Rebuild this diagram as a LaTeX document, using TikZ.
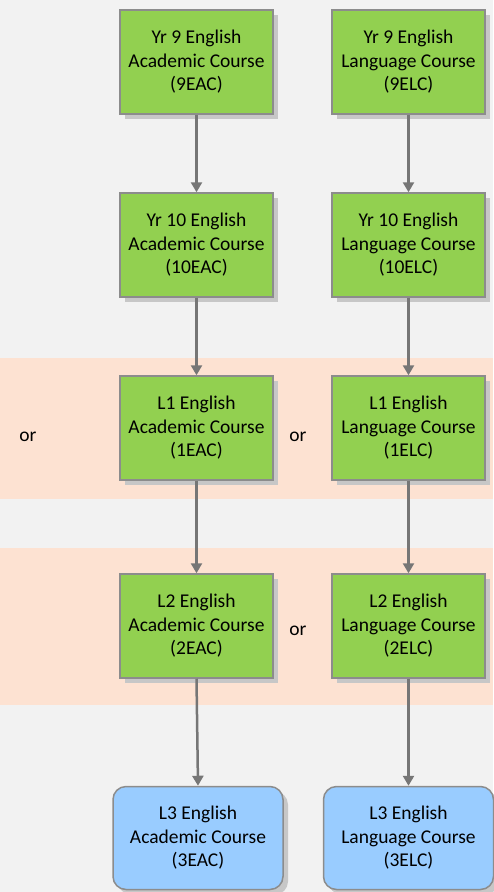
\documentclass[tikz,border=0pt]{standalone}
\usepackage{fontspec}
\setmainfont{Carlito}
\usepackage{tikz}
\usetikzlibrary{arrows.meta,shadows}

\definecolor{pagegray}{RGB}{242,242,242}
\definecolor{bandpeach}{RGB}{253,226,210}
\definecolor{boxgreen}{RGB}{146,208,80}
\definecolor{boxblue}{RGB}{153,204,255}
\definecolor{edgegray}{RGB}{140,140,140}
\definecolor{arrowgray}{RGB}{118,118,118}

\tikzset{
  course/.style={draw=edgegray, line width=1.5pt, fill=boxgreen, minimum width=153pt, minimum height=104pt,
    align=center, inner sep=0pt, font=\fontsize{19.5}{23.5}\selectfont,
    drop shadow={shadow xshift=5pt, shadow yshift=-5pt, fill=black!22, opacity=1}},
  final/.style={course, fill=boxblue, rounded corners=13pt, minimum width=170pt, minimum height=103pt},
  ortext/.style={inner sep=0pt, font=\fontsize{19.5}{23.5}\selectfont},
  flow/.style={draw=arrowgray, line width=2.5pt, -{Triangle[width=11pt,length=10pt]}}
}

\begin{document}
\begin{tikzpicture}[x=1pt,y=1pt,yscale=-1,xscale=1]
    % background and bands
    \fill [pagegray] (0,0) rectangle (493,892);
    \useasboundingbox (0,0) rectangle (493,892);
    \fill [bandpeach] (0,358) rectangle (493,499);
    \fill [bandpeach] (0,548) rectangle (493,705);

    % Year 9
    \node [course] (eac9) at (196.5,62) {Yr 9 English\\Academic Course\\(9EAC)};
    \node [course] (elc9) at (408.5,62) {Yr 9 English\\Language Course\\(9ELC)};
    % Year 10
    \node [course] (eac10) at (196.5,245) {Yr 10 English\\Academic Course\\(10EAC)};
    \node [course] (elc10) at (408.5,245) {Yr 10 English\\Language Course\\(10ELC)};
    % Level 1
    \node [course] (eac1) at (196.5,428) {L1 English\\Academic Course\\(1EAC)};
    \node [course] (elc1) at (408.5,428) {L1 English\\Language Course\\(1ELC)};
    % Level 2
    \node [course] (eac2) at (196.5,626) {L2 English\\Academic Course\\(2EAC)};
    \node [course] (elc2) at (408.5,626) {L2 English\\Language Course\\(2ELC)};
    % Level 3
    \node [final] (eac3) at (198,838) {L3 English\\Academic Course\\(3EAC)};
    \node [final] (elc3) at (408.5,838) {L3 English\\Language Course\\(3ELC)};

    % Text Node
    \node [ortext] (or1) at (28,437) {or};
    % Text Node
    \node [ortext] (or2) at (298,437) {or};
    % Text Node
    \node [ortext] (or3) at (298,631) {or};

    % arrows
    \draw [flow] (eac9) -- (eac10);
    \draw [flow] (elc9) -- (elc10);
    \draw [flow] (eac10) -- (eac1);
    \draw [flow] (elc10) -- (elc1);
    \draw [flow] (eac1) -- (eac2);
    \draw [flow] (elc1) -- (elc2);
    \draw [flow] (eac2.south) -- (eac3.north);
    \draw [flow] (elc2) -- (elc3);

\end{tikzpicture}
\end{document}
